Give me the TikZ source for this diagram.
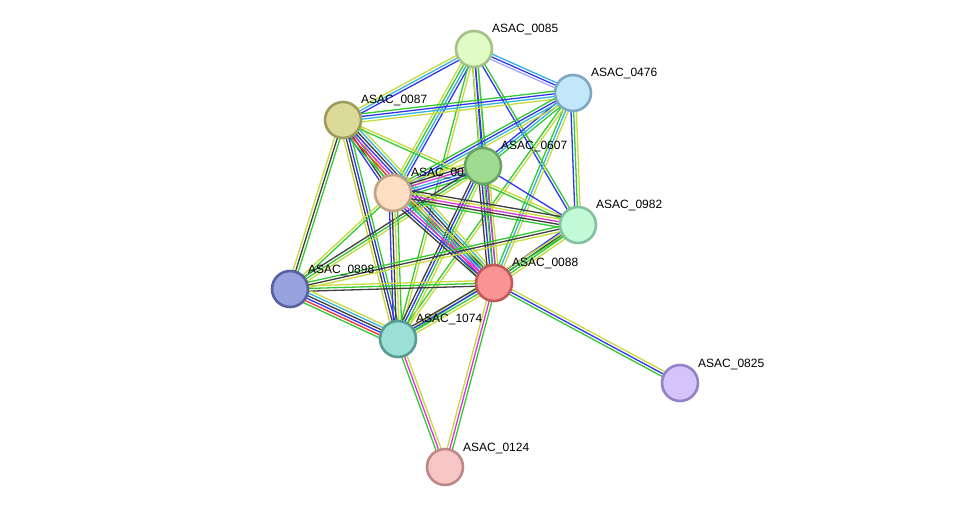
\documentclass[tikz,border=0pt]{standalone}
\usepackage{fontspec}
\setmainfont{Liberation Sans}
\usetikzlibrary{calc,backgrounds}
% node colours
\definecolor{fA}{HTML}{E0FBC4}\definecolor{dA}{HTML}{A4C286}
\definecolor{fB}{HTML}{C2E6FA}\definecolor{dB}{HTML}{7EA8C2}
\definecolor{fC}{HTML}{DCDA98}\definecolor{dC}{HTML}{A09C60}
\definecolor{fD}{HTML}{9FDC92}\definecolor{dD}{HTML}{6AA462}
\definecolor{fE}{HTML}{FDDEC2}\definecolor{dE}{HTML}{C0A284}
\definecolor{fF}{HTML}{C2FAD8}\definecolor{dF}{HTML}{82C29E}
\definecolor{fG}{HTML}{98A2DE}\definecolor{dG}{HTML}{56629E}
\definecolor{fH}{HTML}{FA9494}\definecolor{dH}{HTML}{C05A5A}
\definecolor{fI}{HTML}{9AE0D6}\definecolor{dI}{HTML}{5A9C94}
\definecolor{fJ}{HTML}{D4C4FA}\definecolor{dJ}{HTML}{9282C6}
\definecolor{fK}{HTML}{F6C6C6}\definecolor{dK}{HTML}{BE8888}
% evidence colours
\definecolor{egreen}{HTML}{33C933}
\definecolor{eblue}{HTML}{3333F5}
\definecolor{ecyan}{HTML}{33B4DC}
\definecolor{eyg}{HTML}{C6DA3C}
\definecolor{eblack}{HTML}{3E3E3E}
\definecolor{emag}{HTML}{DC33DC}
\definecolor{ered}{HTML}{F53333}
\definecolor{elav}{HTML}{A8A8F6}
\tikzset{
  % protein bubble with a darker ring of the same hue
  prot/.style = {circle, minimum size=36pt, inner sep=0pt, line width=2.6pt,
                 fill=f#1, draw=d#1},
  lbl/.style  = {anchor=base west, inner sep=0pt, font=\fontsize{12}{14}\selectfont},
  edge/.style = {line width=1.3pt},
}
% parallel evidence lines between two proteins
\newcommand{\bundle}[4]{%
  \foreach \col [count=\i] in {#4} {
    \pgfmathsetmacro{\off}{(\i-(#3+1)/2)*2.7}
    \draw[edge, \col] ($(#1)!\off pt!90:(#2)$) -- ($(#2)!\off pt!-90:(#1)$);
  }}
\begin{document}
\begin{tikzpicture}[x=1pt,y=-1pt]
\useasboundingbox (0,0) rectangle (975,513);
% proteins
\node[prot=A] (p0085) at (474,49) {};
\node[lbl] at ($(p0085)+(18,-16)$) {ASAC\_0085};
\node[prot=B] (p0476) at (573,93) {};
\node[lbl] at ($(p0476)+(18,-16)$) {ASAC\_0476};
\node[prot=C] (p0087) at (343,120) {};
\node[lbl] at ($(p0087)+(18,-16)$) {ASAC\_0087};
\node[prot=E] (p00xx) at (393,193) {};
\node[lbl] at ($(p00xx)+(18,-16)$) {ASAC\_00};
\node[prot=D] (p0607) at (483,166) {};
\node[lbl] at ($(p0607)+(18,-16)$) {ASAC\_0607};
\node[prot=F] (p0982) at (578,225) {};
\node[lbl] at ($(p0982)+(18,-16)$) {ASAC\_0982};
\node[prot=G] (p0898) at (290,289) {};
\node[lbl] at ($(p0898)+(18,-16)$) {ASAC\_0898};
\node[prot=H] (p0088) at (494,283) {};
\node[lbl] at ($(p0088)+(18,-16)$) {ASAC\_0088};
\node[prot=I] (p1074) at (398,339) {};
\node[lbl] at ($(p1074)+(18,-16)$) {ASAC\_1074};
\node[prot=J] (p0825) at (680,383) {};
\node[lbl] at ($(p0825)+(18,-16)$) {ASAC\_0825};
\node[prot=K] (p0124) at (445,467) {};
\node[lbl] at ($(p0124)+(18,-16)$) {ASAC\_0124};
% interactions
\begin{scope}[on background layer]
\bundle{p0085}{p0476}{3}{elav,eblue,ecyan}
\bundle{p0085}{p0087}{3}{eyg,ecyan,eblue}
\bundle{p0085}{p0607}{3}{egreen,eblue,eyg}
\bundle{p0085}{p00xx}{4}{eyg,egreen,ecyan,eblue}
\bundle{p0085}{p0982}{2}{eblue,egreen}
\bundle{p0085}{p0088}{3}{eyg,eblue,egreen}
\bundle{p0085}{p1074}{2}{egreen,eyg}
\bundle{p0476}{p0087}{4}{egreen,eblue,ecyan,eyg}
\bundle{p0476}{p0607}{3}{eblue,ecyan,egreen}
\bundle{p0476}{p00xx}{4}{egreen,eblue,ecyan,eyg}
\bundle{p0476}{p0982}{3}{eblue,egreen,eyg}
\bundle{p0476}{p0088}{3}{egreen,ecyan,eyg}
\bundle{p0476}{p1074}{2}{egreen,eyg}
\bundle{p0087}{p00xx}{4}{eblue,eblack,egreen,eyg}
\bundle{p0087}{p0088}{7}{egreen,ered,emag,eblue,eblack,ecyan,eyg}
\bundle{p0087}{p0982}{2}{egreen,eyg}
\bundle{p0087}{p0898}{3}{eyg,eblack,egreen}
\bundle{p0087}{p1074}{4}{eyg,eblack,eblue,egreen}
\bundle{p00xx}{p0607}{6}{egreen,eblue,ecyan,emag,eblack,eyg}
\bundle{p0607}{p0982}{1}{eblue}
\bundle{p0607}{p0088}{5}{eblack,eblue,egreen,emag,eyg}
\bundle{p0607}{p1074}{4}{eblack,eblue,egreen,eyg}
\bundle{p0607}{p0898}{3}{eblack,egreen,eyg}
\bundle{p00xx}{p0982}{5}{egreen,eblack,emag,eyg,eblack}
\bundle{p00xx}{p0088}{6}{eblack,eblue,emag,ecyan,egreen,eyg}
\bundle{p00xx}{p1074}{4}{eblue,eblack,eyg,egreen}
\bundle{p00xx}{p0898}{2}{eyg,egreen}
\bundle{p0982}{p0088}{4}{eblue,eblack,egreen,eyg}
\bundle{p0982}{p0898}{3}{egreen,eblack,eyg}
\bundle{p0982}{p1074}{2}{eyg,egreen}
\bundle{p0898}{p0088}{3}{eblack,egreen,eyg}
\bundle{p0898}{p1074}{6}{egreen,ered,eblue,eblack,ecyan,eyg}
\bundle{p0088}{p1074}{4}{eblack,eblue,egreen,eyg}
\bundle{p0088}{p0825}{3}{egreen,eblue,eyg}
\bundle{p0088}{p0124}{3}{eyg,emag,egreen}
\bundle{p1074}{p0124}{3}{egreen,emag,eyg}
\end{scope}
\end{tikzpicture}
\end{document}
